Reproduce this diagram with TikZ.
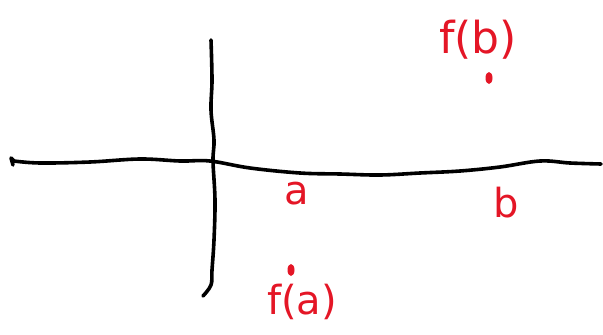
\documentclass[tikz,border=0pt]{standalone}
\usepackage{fontspec}
\setmainfont{DejaVu Sans}
\usetikzlibrary{shapes.geometric}
\definecolor{inkred}{RGB}{228,22,38}
\begin{document}
\begin{tikzpicture}[x=1pt,y=-1pt,
  axis/.style={draw=black,line width=3.6pt,line cap=round,line join=round},
  lbl/.style={text=inkred,inner sep=0pt,font=\fontsize{40}{40}\selectfont},
  pt/.style={fill=inkred,draw=none,ellipse,minimum width=7pt,minimum height=12pt,inner sep=0pt}]
\useasboundingbox (0,0) rectangle (603,335);
% horizontal axis
\draw[axis] (13,165) -- (11,158) -- (14,161)
  plot[smooth,tension=0.6] coordinates {(14,161) (40,163) (90,162) (140,159) (180,161) (210,161) (250,168) (300,173) (340,174) (380,175) (420,173) (460,171) (500,167) (540,161) (570,163) (601,164)};
% vertical axis
\draw[axis] plot[smooth,tension=0.6] coordinates {(211,40) (212,80) (211,110) (214,140) (213,161) (215,200) (214,240) (212,270) (211,285) (203,296)};
% labels
\node[lbl] (a) at (297,194) {a};
\node[lbl] (b) at (506,203) {b};
\node[lbl] (fa) at (302,302) {f(a)};
\node[lbl,font=\fontsize{44}{44}\selectfont] (fb) at (478,40) {f(b)};
% points
\node[pt] (pa) at (291,270) {};
\node[pt] (pb) at (489,78) {};
\end{tikzpicture}
\end{document}
